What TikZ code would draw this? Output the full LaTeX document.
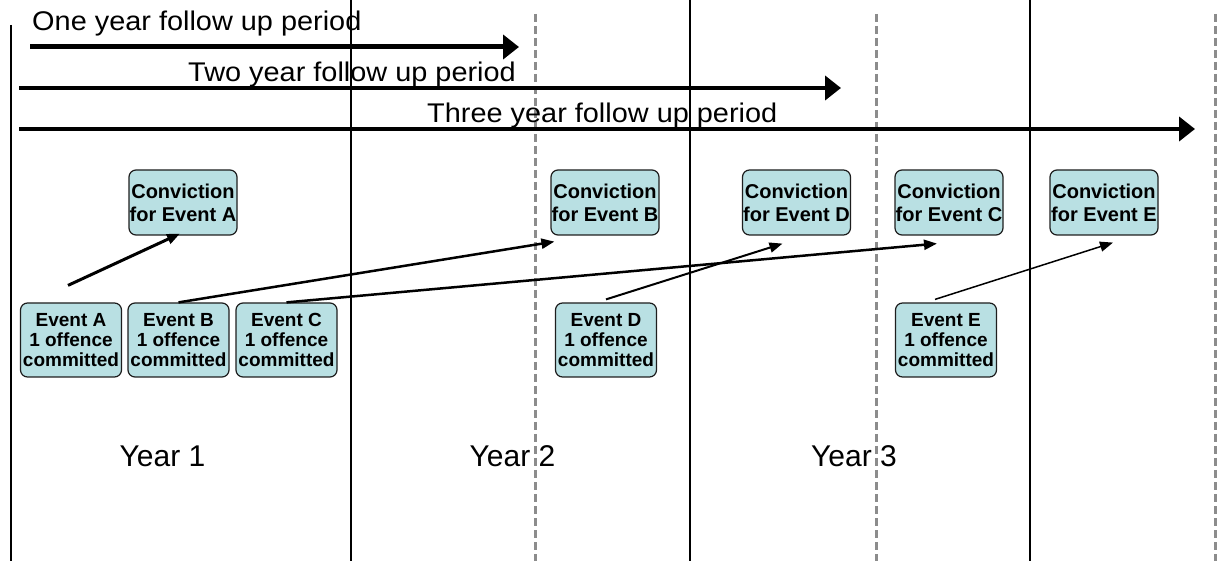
\documentclass[tikz,border=0pt]{standalone}
\usepackage{fontspec}
\setmainfont{Liberation Sans}
\usetikzlibrary{arrows.meta,calc}
\definecolor{boxfill}{RGB}{185,224,227}
\definecolor{boxline}{RGB}{30,30,30}
\definecolor{dashgray}{RGB}{140,140,140}
\tikzset{
  yearline/.style={line width=1.5pt,black},
  halfline/.style={line width=3pt,dashgray,dash pattern=on 8pt off 4pt},
  period/.style={-{Triangle[length=16pt,width=24pt]},line width=4pt},
  periodtext/.style={anchor=base west,inner sep=0pt,font=\fontsize{27}{30}\selectfont,xscale=1.07},
  convbox/.style={draw=boxline,fill=boxfill,line width=1.2pt,rounded corners=7pt,
    minimum width=108pt,minimum height=65pt,inner sep=0pt,align=center,
    font=\fontsize{20}{23}\selectfont\bfseries},
  eventbox/.style={draw=boxline,fill=boxfill,line width=1.2pt,rounded corners=7pt,
    minimum width=101pt,minimum height=74pt,inner sep=0pt,align=center,
    font=\fontsize{19}{20}\selectfont\bfseries},
  conn/.style={-{Triangle[length=13pt,width=10pt]}},
  yeartext/.style={anchor=base,inner sep=0pt,font=\fontsize{30}{34}\selectfont},
}
\begin{document}
\begin{tikzpicture}[x=1pt,y=-1pt]
\useasboundingbox (0,0) rectangle (1219,561);
% vertical year boundaries
\draw[yearline] (11,25) -- (11,561);
\draw[yearline] (351,0) -- (351,561);
\draw[yearline] (690,0) -- (690,561);
\draw[yearline] (1030,0) -- (1030,561);
% half-year dashed lines
\draw[halfline] (535,14) -- (535,561);
\draw[halfline] (876,14) -- (876,561);
\draw[halfline] (1215,14) -- (1215,561);
% follow up periods
\coordinate (p1s) at (30,47);
\coordinate (p1e) at (519,47);
\coordinate (p2s) at (19,88);
\coordinate (p2e) at (841,88);
\coordinate (p3s) at (19,129);
\coordinate (p3e) at (1195,129);
\draw[period,line width=5pt] (p1s) -- (p1e);
\draw[period] (p2s) -- (p2e);
\draw[period] (p3s) -- (p3e);
\node[periodtext] (t1) at (32,31) {One year follow up period};
\node[periodtext] (t2) at (188,82) {Two year follow up period};
\node[periodtext] (t3) at (427,123) {Three year follow up period};
% convictions
\node[convbox] (cA) at (183,202.5) {Conviction\\for Event A};
\node[convbox] (cB) at (605,202.5) {Conviction\\for Event B};
\node[convbox] (cD) at (796.5,202.5) {Conviction\\for Event D};
\node[convbox] (cC) at (949,202.5) {Conviction\\for Event C};
\node[convbox] (cE) at (1104,202.5) {Conviction\\for Event E};
% events
\node[eventbox] (eA) at (71,340) {Event A\\1 offence\\committed};
\node[eventbox] (eB) at (178.5,340) {Event B\\1 offence\\committed};
\node[eventbox] (eC) at (286.5,340) {Event C\\1 offence\\committed};
\node[eventbox] (eD) at (606,340) {Event D\\1 offence\\committed};
\node[eventbox] (eE) at (946,340) {Event E\\1 offence\\committed};
% connectors
\draw[conn,line width=3pt] ([xshift=-3pt,yshift=17pt]eA.north) -- ([xshift=-3pt,yshift=2pt]cA.south);
\draw[conn,line width=2.5pt] (eB.north) -- ([xshift=4pt,yshift=-6pt]cB.south west);
\draw[conn,line width=2.5pt] (eC.north) -- ([xshift=-12pt,yshift=-8pt]cC.south);
\draw[conn,line width=2pt] ([yshift=3pt]eD.north) -- ([xshift=-14pt,yshift=-8pt]cD.south);
\draw[conn,line width=1.5pt] ([xshift=-11pt,yshift=3pt]eE.north) -- ([xshift=9pt,yshift=-7pt]cE.south);
% year labels
\node[yeartext] (y1) at (162.5,466) {Year 1};
\node[yeartext] (y2) at (512.5,466) {Year 2};
\node[yeartext] (y3) at (854,466) {Year 3};
\end{tikzpicture}
\end{document}
